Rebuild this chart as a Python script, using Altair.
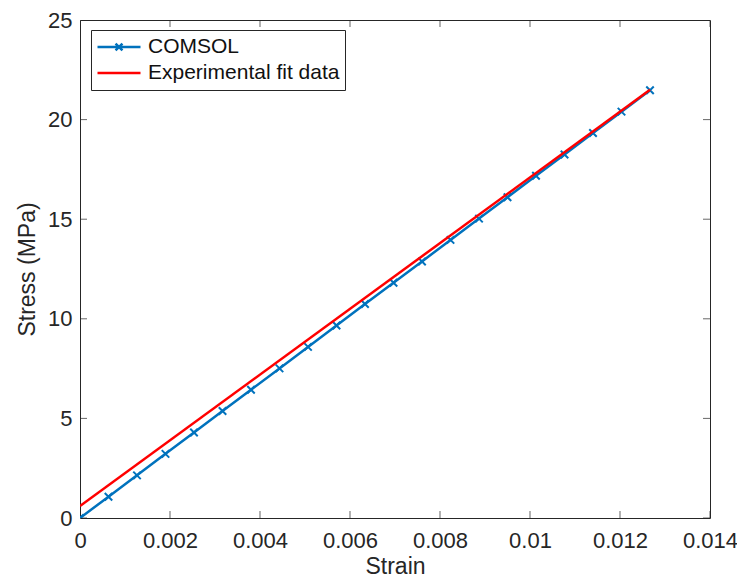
import altair as alt
import pandas as pd

# ---- data ----
strain_comsol = [0.0, 0.000633, 0.001267, 0.0019, 0.002533, 0.003167, 0.0038,
                 0.004433, 0.005067, 0.0057, 0.006333, 0.006967, 0.0076,
                 0.008233, 0.008867, 0.0095, 0.010133, 0.010767, 0.0114,
                 0.012033, 0.012667]
stress_comsol = [0.0, 1.07, 2.14, 3.22, 4.29, 5.37, 6.44, 7.51, 8.59, 9.66,
                 10.74, 11.81, 12.88, 13.96, 15.03, 16.10, 17.18, 18.25,
                 19.33, 20.40, 21.47]
strain_fit = [0.0, 0.012667]
stress_fit = [0.6, 21.5]

series_names = ["COMSOL", "Experimental fit data"]
series_colors = ["#0072BD", "#FF0000"]
x_ticks = [0, 0.002, 0.004, 0.006, 0.008, 0.01, 0.012, 0.014]
y_ticks = [0, 5, 10, 15, 20, 25]

comsol = pd.DataFrame({"strain": strain_comsol, "stress": stress_comsol,
                       "series": series_names[0]})
fit = pd.DataFrame({"strain": strain_fit, "stress": stress_fit,
                    "series": series_names[1]})
legend_df = pd.DataFrame({"strain": [strain_comsol[0], strain_fit[0]],
                          "stress": [stress_comsol[0], stress_fit[0]],
                          "series": series_names})
xt = pd.DataFrame({"strain": x_ticks})
yt = pd.DataFrame({"stress": y_ticks})

AX = "#262626"
FONT = "Liberation Sans"
W, H = 630, 498

X_MARK = "M-1,-1L1,1M-1,1L1,-1"
LEG_X = "M-1,0H1M-0.16,-0.16L0.16,0.16M-0.16,0.16L0.16,-0.16"
LEG_LINE = "M-1,0H1"

x_scale = alt.Scale(domain=[0, 0.014], nice=False, zero=False)
y_scale = alt.Scale(domain=[0, 25], nice=False, zero=False)
color_scale = alt.Scale(domain=series_names, range=series_colors)
shape_scale = alt.Scale(domain=series_names, range=[LEG_X, LEG_LINE])

x_enc = alt.X("strain:Q", scale=x_scale,
              axis=alt.Axis(values=x_ticks, format="~g", title="Strain",
                            labelPadding=12, titlePadding=4, labelFlush=False))
y_enc = alt.Y("stress:Q", scale=y_scale,
              axis=alt.Axis(values=y_ticks, title="Stress (MPa)",
                            labelPadding=8, titlePadding=8, labelFlush=False))

leg = alt.Legend(title=None, orient="none", legendX=11, legendY=10,
                 fillColor="white", strokeColor=AX, padding=5,
                 labelFont=FONT, labelFontSize=21, labelColor="#111111",
                 labelLimit=400,
                 symbolSize=1849, symbolStrokeWidth=2.5, symbolOpacity=1,
                 clipHeight=24, rowPadding=2, labelOffset=6)

blue_line = alt.Chart(comsol).mark_line(
    strokeWidth=2.5, clip=True, color=series_colors[0]).encode(x=x_enc, y=y_enc)
blue_marks = alt.Chart(comsol).mark_point(
    shape=X_MARK, size=56, filled=False, strokeWidth=2, opacity=1,
    color=series_colors[0], clip=True).encode(x=x_enc, y=y_enc)
red_line = alt.Chart(fit).mark_line(
    strokeWidth=2.5, clip=True, color=series_colors[1]).encode(x=x_enc, y=y_enc)
legend_layer = alt.Chart(legend_df).mark_point(opacity=0, filled=False).encode(
    x=x_enc, y=y_enc,
    color=alt.Color("series:N", scale=color_scale, legend=leg),
    shape=alt.Shape("series:N", scale=shape_scale, legend=leg))

tick_kw = dict(thickness=1, size=14, color=AX, clip=True)
bottom_ticks = alt.Chart(xt).mark_tick(orient="vertical", **tick_kw).encode(
    x=x_enc, y=alt.value("height"))
top_ticks = alt.Chart(xt).mark_tick(orient="vertical", **tick_kw).encode(
    x=x_enc, y=alt.value(0))
left_ticks = alt.Chart(yt).mark_tick(orient="horizontal", **tick_kw).encode(
    y=y_enc, x=alt.value(0))
right_ticks = alt.Chart(yt).mark_tick(orient="horizontal", **tick_kw).encode(
    y=y_enc, x=alt.value("width"))

chart = alt.layer(
    bottom_ticks, top_ticks, left_ticks, right_ticks,
    blue_line, blue_marks, red_line, legend_layer
).properties(
    width=W, height=H,
    autosize=alt.AutoSizeParams(type="none"),
    padding={"left": 72, "top": 12, "right": 27, "bottom": 62},
    background="white",
).configure_view(
    stroke=AX, strokeWidth=1
).configure_axis(
    labelFont=FONT, labelFontSize=22, labelColor=AX,
    titleFont=FONT, titleFontSize=23, titleColor=AX, titleFontWeight="normal",
    ticks=False, domain=False, grid=False
)

chart.save("out.html", embed_options={"renderer": "svg", "actions": False})
